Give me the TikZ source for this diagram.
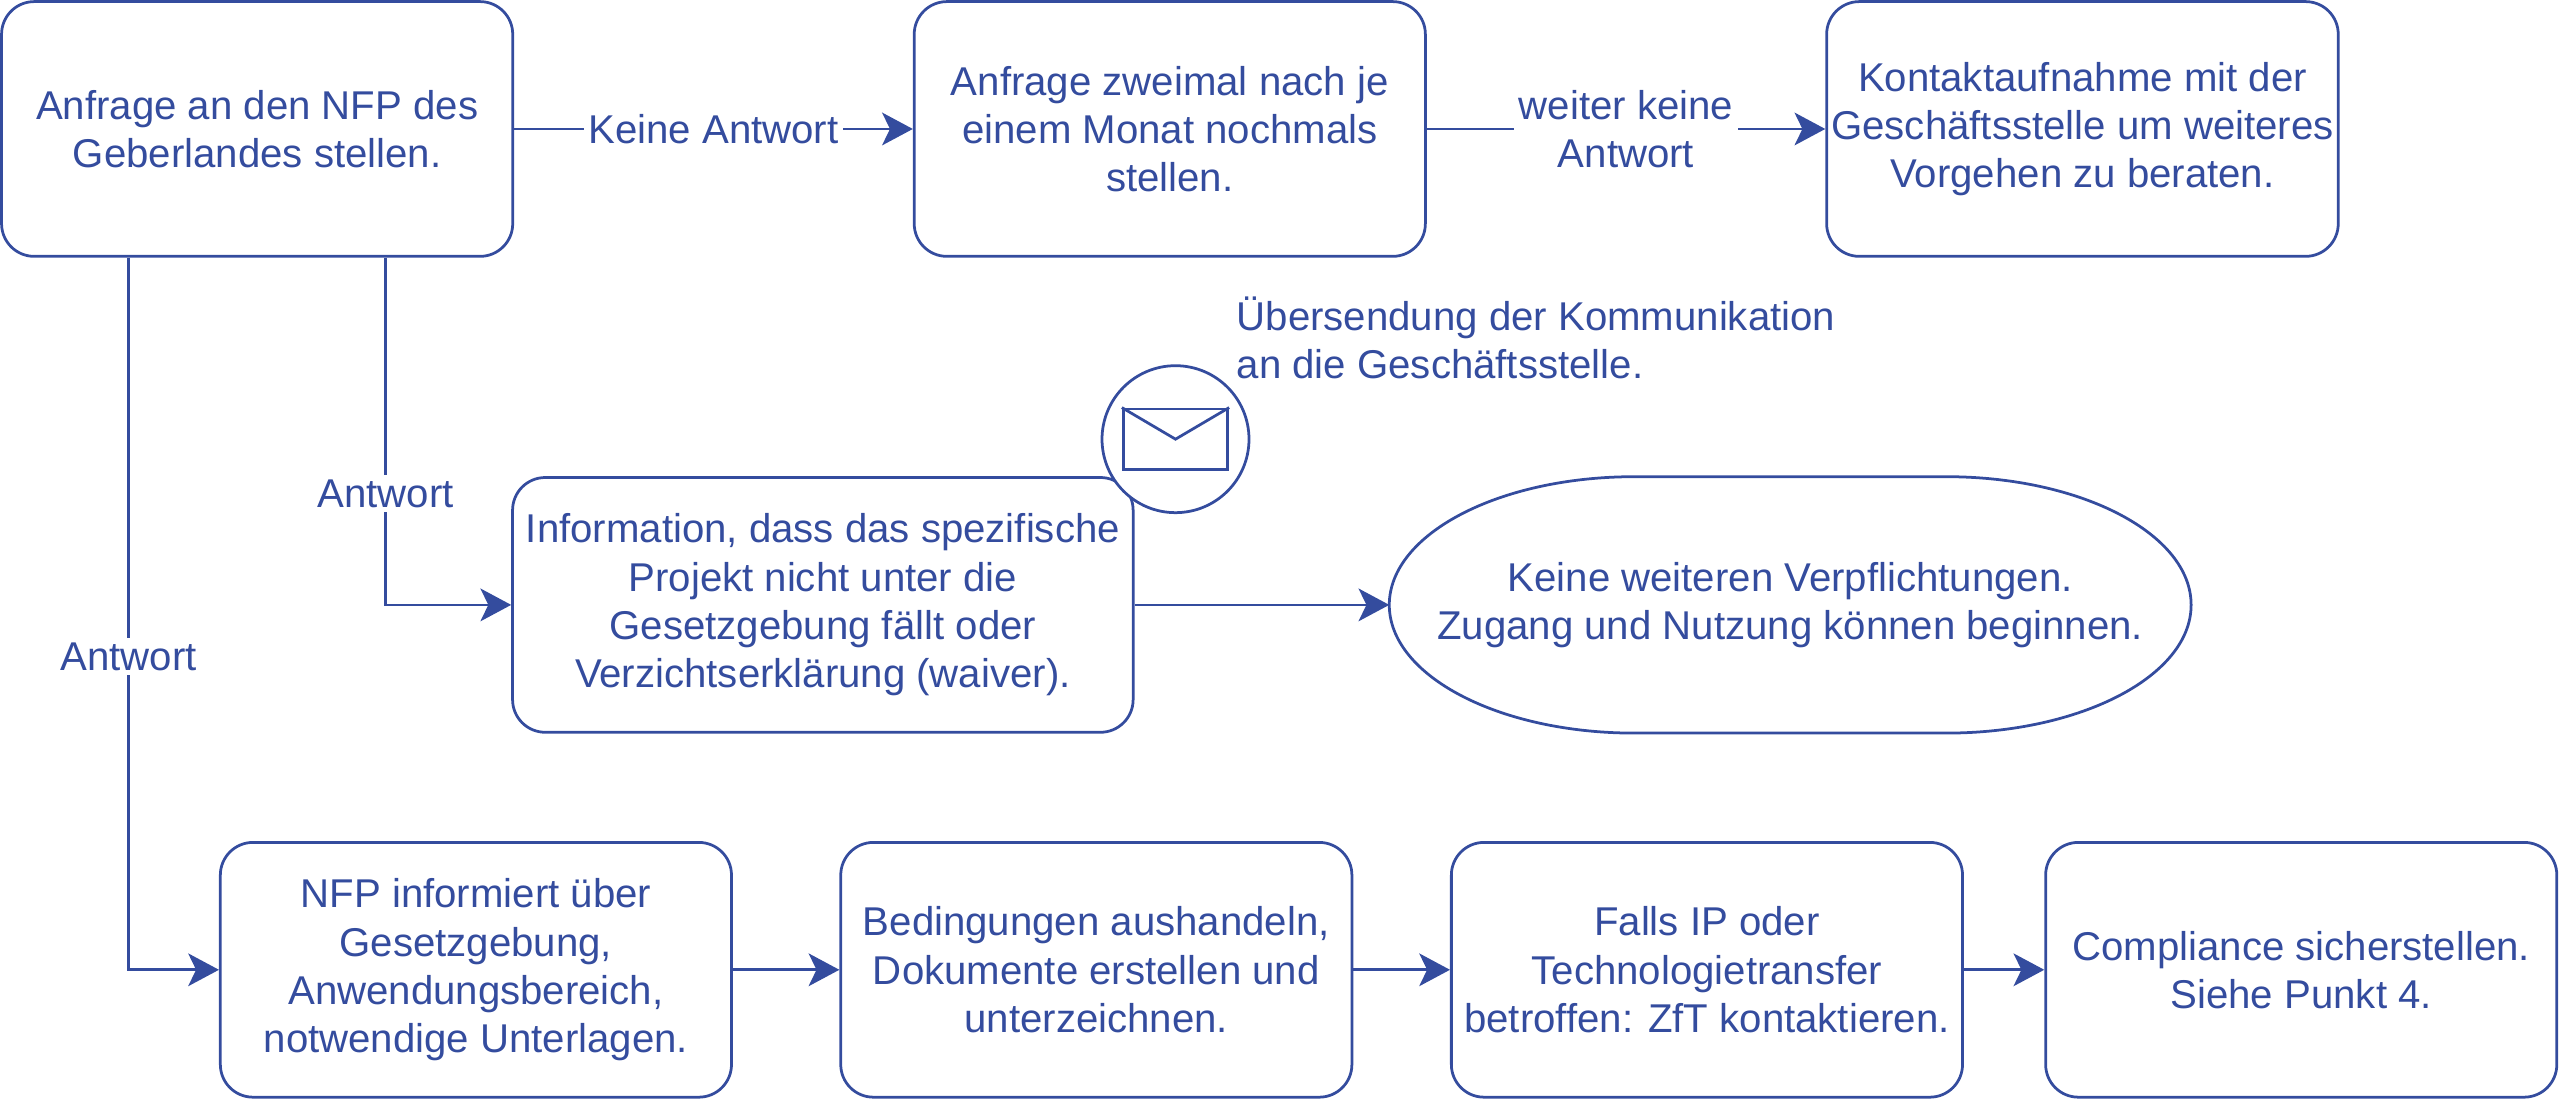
\documentclass[tikz,border=0pt]{standalone}
\usepackage{fontspec}
\setmainfont{Liberation Sans}
\usetikzlibrary{arrows.meta,calc}
\definecolor{flow}{RGB}{52,76,158}
\begin{document}
\begin{tikzpicture}[x=.025cm,y=-.025cm,line width=1.2pt,flow,font=\fontsize{17.5}{21}\selectfont]

        \useasboundingbox (0,0) rectangle (1568,676);

        \begin{scope}[every node/.style={draw, rounded corners=.5cm, inner xsep=2pt, minimum width=7.825cm, minimum height=3.9cm, align=center}]
          \node (1) at (157.5,79) {Anfrage an den NFP des\\Geberlandes stellen.};
          \node (2) at (716.5,79) {Anfrage zweimal nach je\\einem Monat nochmals\\stellen.};
          \node (3) at (1275.5,79) {Kontaktaufnahme mit der\\Geschäftsstelle um weiteres\\Vorgehen zu beraten.};
          \node[minimum width=9.5cm] (4) at (504,370.5) {Information, dass das spezifische\\Projekt nicht unter die\\Gesetzgebung fällt oder\\Verzichtserklärung (waiver).};
          \node[draw=none, outer sep=0pt, minimum width=12.275cm, minimum height=3.925cm] (5) at (1096.5,370.5) {Keine weiteren Verpflichtungen.\\Zugang und Nutzung können beginnen.};
          \node (6) at (291.5,594) {NFP informiert über\\Gesetzgebung,\\Anwendungsbereich,\\notwendige Unterlagen.};
          \node (7) at (671.5,594) {Bedingungen aushandeln,\\Dokumente erstellen und\\unterzeichnen.};
          \node (8) at (1045.5,594) {Falls IP oder\\Technologietransfer\\betroffen: ZfT kontaktieren.};
          \node (9) at (1409.5,594) {Compliance sicherstellen.\\Siehe Punkt 4.};
        \end{scope}

        \draw ([xshift=3.75cm]5.north west) -- ([xshift=-3.75cm]5.north east)
          arc[start angle=90, end angle=-90, x radius=3.75cm, y radius=1.9625cm]
          -- ([xshift=3.75cm]5.south west)
          arc[start angle=270, end angle=90, x radius=3.75cm, y radius=1.9625cm] -- cycle;

        \node[circle, draw, fill=white, minimum size=2.25cm] (10) at (720,269) {};
        \node[draw, inner sep=0pt, minimum width=1.6cm, minimum height=.925cm] (11) at (720,269) {};
        \draw (11.north west) -- (11.center) -- (11.north east);
        \node[anchor=west, align=left] (12) at (752,207) {Übersendung der Kommunikation\\an die Geschäftsstelle.};

        \begin{scope}[every node/.style={fill=white, align=center, inner sep=2pt}]

          \begin{scope}[every edge/.style={draw, -{Stealth[length=4.7mm, width=5mm, inset=1.2mm]}}]
            \path (1) edge node {Keine Antwort} (2);
            \path (2) edge node {weiter keine\\Antwort} (3);
            \path ($(1.south west)!.75!(1.south east)$) edge[to path={|- (\tikztotarget) \tikztonodes}] node[pos=.34] {Antwort} (4);
            \path ($(1.south west)!.25!(1.south east)$) edge[to path={|- (\tikztotarget) \tikztonodes}] node[pos=.28] {Antwort} (6);
            \path (4) edge (5);
            \path (6) edge (7);
            \path (7) edge (8);
            \path (8) edge (9);
          \end{scope}
        \end{scope}

      \end{tikzpicture}
\end{document}
